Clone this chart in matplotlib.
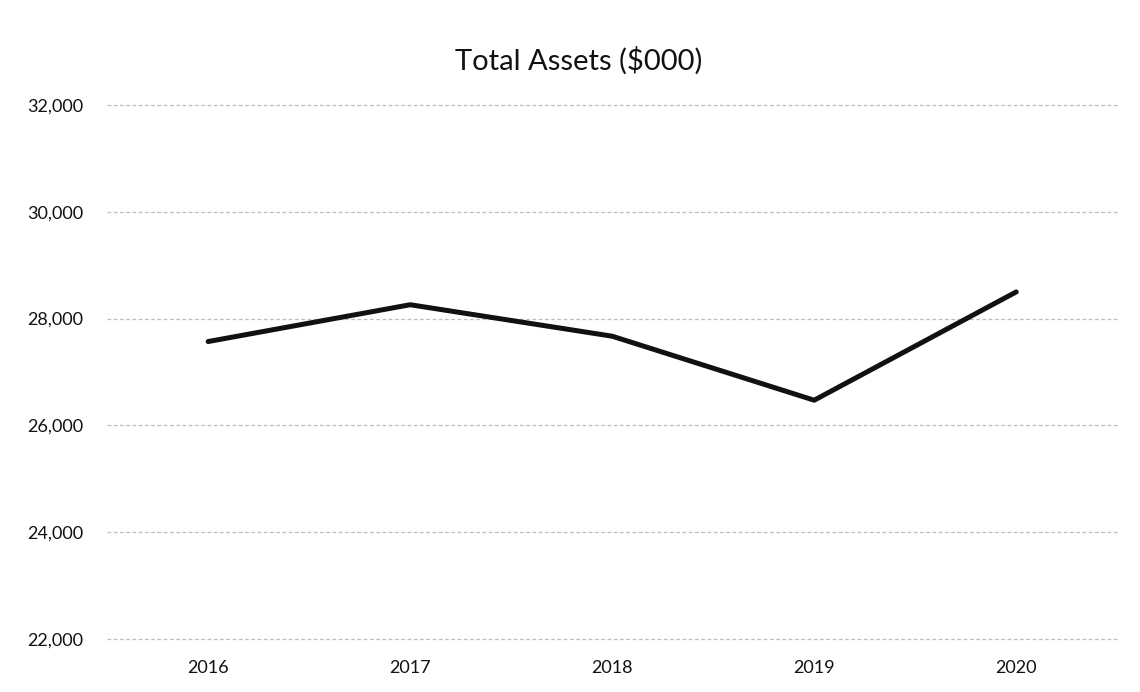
import matplotlib.pyplot as plt

years = ["2016", "2017", "2018", "2019", "2020"]
total_assets = [27570, 28260, 27670, 26470, 28500]
y_ticks = [22000, 24000, 26000, 28000, 30000, 32000]

plt.rcParams['font.family'] = ['Lato', 'DejaVu Sans']

fig = plt.figure(figsize=(11.4, 6.92), dpi=100)
# plot area in figure fractions (left, bottom, width, height)
ax = fig.add_axes([0.094, 0.077, 0.886, 0.771])

x = list(range(len(years)))
ax.plot(x, total_assets, color='#111111', linewidth=3.6, solid_capstyle='round',
        solid_joinstyle='round', zorder=3)

ax.set_xlim(-0.5, len(years) - 0.5)
ax.set_ylim(22000, 32000)
ax.set_yticks(y_ticks)
ax.set_yticklabels([f"{v:,}" for v in y_ticks])
ax.set_xticks(x)
ax.set_xticklabels(years)

ax.grid(axis='y', color='#bdbdbd', linewidth=0.9, linestyle=(0, (3, 2)))
for gl in ax.get_ygridlines():
    gl.set_clip_on(False)
ax.set_axisbelow(True)
for s in ax.spines.values():
    s.set_visible(False)
ax.tick_params(axis='both', length=0, labelsize=13, colors='#111111')
ax.tick_params(axis='y', pad=17)
ax.tick_params(axis='x', pad=15)

fig.text(0.508, 0.913, "Total Assets ($000)", ha='center', va='center', fontsize=21,
         color='#111111')

fig.savefig("out.png", dpi=100)
